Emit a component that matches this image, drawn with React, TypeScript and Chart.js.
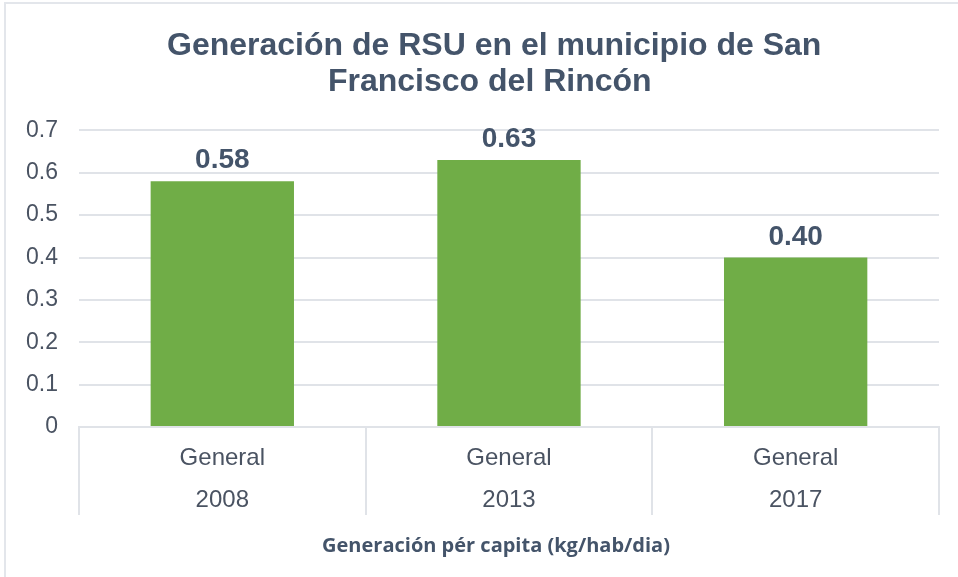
import React, { useEffect, useRef } from 'react';
import { Chart, registerables } from 'chart.js';

Chart.register(...registerables);

const groupLabels = ['General', 'General', 'General'];
const years = ['2008', '2013', '2017'];
const values = [0.58, 0.63, 0.4];
const titleLines = ['Generación de RSU en el municipio de San', 'Francisco del Rincón'];
const axisTitle = 'Generación pér capita (kg/hab/dia)';

const GRID = '#e0e3e8';
const TEXT = '#44546A';
const NB = '\u00A0';

const dataLabelPlugin = {
  id: 'dataLabels',
  afterDatasetsDraw(chart: any) {
    const ctx = chart.ctx;
    const meta = chart.getDatasetMeta(0);
    ctx.save();
    ctx.font = 'bold 28px "Liberation Sans", Arial, sans-serif';
    ctx.fillStyle = TEXT;
    ctx.textAlign = 'center';
    ctx.textBaseline = 'alphabetic';
    meta.data.forEach((bar: any, i: number) => {
      ctx.fillText(values[i].toFixed(2), bar.x, bar.y - 13);
    });
    ctx.restore();
  },
};

export default function App() {
  const ref = useRef<HTMLCanvasElement | null>(null);
  useEffect(() => {
    if (!ref.current) return;
    const chart = new Chart(ref.current, {
      type: 'bar',
      data: {
        labels: groupLabels.map((g, i) => [g, years[i]]),
        datasets: [
          {
            data: values,
            backgroundColor: '#70AD47',
            barPercentage: 0.5,
            categoryPercentage: 1,
          },
        ],
      },
      plugins: [dataLabelPlugin],
      options: {
        animation: false,
        responsive: false,
        maintainAspectRatio: false,
        layout: { padding: { left: 5, right: 19, top: 0, bottom: 0 } },
        plugins: {
          legend: { display: false },
          tooltip: { enabled: false },
          title: {
            display: true,
            text: [NB.repeat(5) + titleLines[0], NB.repeat(4) + titleLines[1]],
            color: TEXT,
            font: { family: '"Liberation Sans", Arial, sans-serif', size: 32, weight: 'bold', lineHeight: 1.1 },
            padding: { top: 29, bottom: 31 },
          },
        },
        scales: {
          x: {
            afterFit: (scale: any) => {
              scale.height = 150;
            },
            grid: {
              display: true,
              drawOnChartArea: false,
              drawTicks: true,
              tickLength: 88,
              offset: true,
              color: GRID,
              lineWidth: 2,
            },
            border: { display: true, color: GRID, width: 2 },
            ticks: {
              color: '#4a5362',
              padding: -77,
              font: { family: '"Liberation Sans", Arial, sans-serif', size: 24, lineHeight: 1.72 },
            },
            title: {
              display: true,
              text: axisTitle + NB.repeat(5),
              color: TEXT,
              font: { family: '"Open Sans", sans-serif', size: 20, weight: 'bold', lineHeight: 1.2 },
              padding: { top: 0, bottom: 19 },
            },
          },
          y: {
            min: 0,
            max: 0.7,
            ticks: {
              stepSize: 0.1,
              color: '#4a5362',
              padding: 21,
              font: { family: '"Liberation Sans", Arial, sans-serif', size: 23 },
            },
            grid: { color: GRID, lineWidth: 2, drawTicks: false },
            border: { display: false },
          },
        },
      },
    });
    return () => chart.destroy();
  }, []);
  return (
    <div style={{ position: 'absolute', left: 0, top: 0, width: 958, height: 577, background: '#fff' }}>
      <div
        style={{
          position: 'absolute',
          left: 4,
          top: 2,
          width: 960,
          height: 580,
          borderTop: '2px solid #e3e6eb',
          borderLeft: '2px solid #e3e6eb',
        }}
      />
      <canvas ref={ref} width={958} height={577} style={{ position: 'absolute', left: 0, top: 0 }} />
    </div>
  );
}
